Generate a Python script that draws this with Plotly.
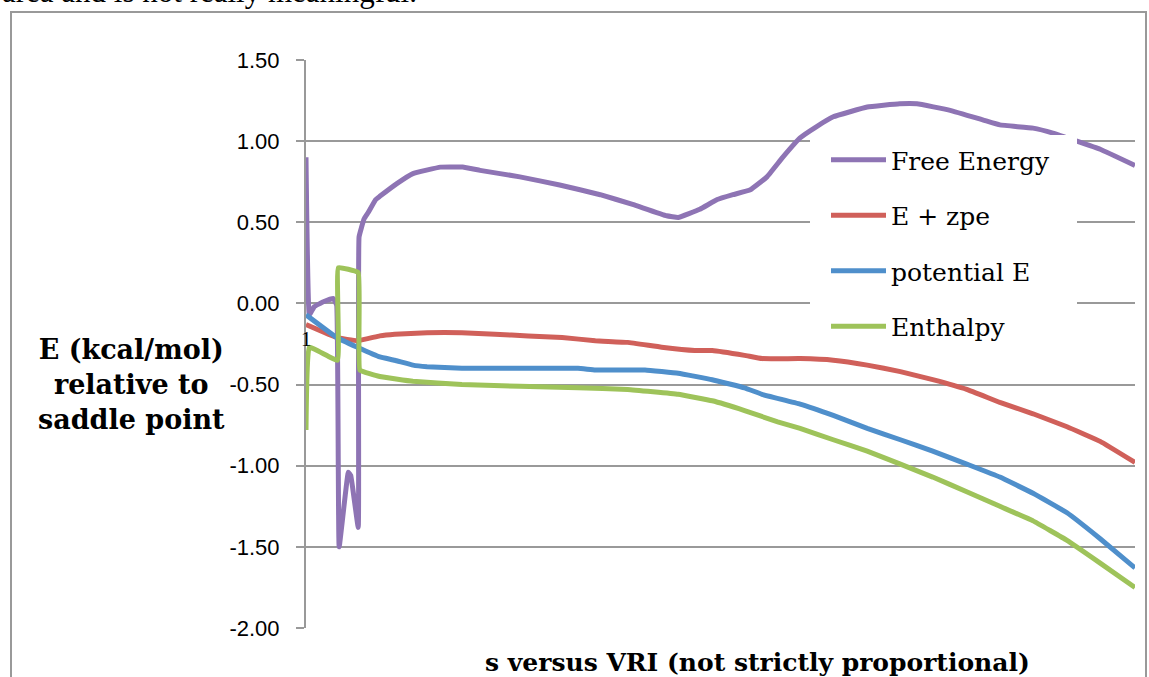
import plotly.graph_objects as go

# ---------------- data ----------------
# s = position along the reaction path (arbitrary units 0-100, "not strictly proportional")
s_free = [0.0, 0.4, 1.0, 2.1, 3.3, 3.7, 4.0, 5.1, 5.4, 6.3, 6.4, 7.0, 7.5, 8.4, 8.9,
          11.0, 12.9, 16.2, 18.9, 21.0, 25.8, 30.6, 35.5, 39.4, 43.5, 44.9, 47.5,
          49.6, 51.5, 53.6, 55.6, 57.5, 59.6, 61.6, 63.6, 67.7, 71.6, 73.7, 77.7,
          81.7, 83.7, 87.7, 90.1, 93.0, 95.8, 100.0]
free_energy = [0.90, -0.07, -0.02, 0.01, 0.03, -0.01, -1.50, -1.04, -1.06, -1.38, 0.41,
               0.52, 0.56, 0.64, 0.66, 0.74, 0.80, 0.84, 0.84, 0.82, 0.78, 0.73, 0.67,
               0.61, 0.54, 0.53, 0.58, 0.64, 0.67, 0.70, 0.78, 0.90, 1.02, 1.09, 1.15,
               1.21, 1.23, 1.23, 1.19, 1.13, 1.10, 1.08, 1.05, 1.00, 0.95, 0.85]

s_zpe = [0.0, 3.7, 6.2, 8.9, 10.7, 14.6, 18.8, 22.8, 26.8, 30.9, 34.9, 38.8, 42.9,
         46.9, 49.0, 52.9, 55.0, 59.6, 63.6, 67.7, 71.7, 75.6, 79.7, 83.7, 87.7,
         91.8, 95.8, 100.0]
e_zpe = [-0.13, -0.21, -0.23, -0.20, -0.19, -0.18, -0.18, -0.19, -0.20, -0.21, -0.23,
         -0.24, -0.27, -0.29, -0.29, -0.32, -0.34, -0.34, -0.35, -0.38, -0.42, -0.47,
         -0.53, -0.61, -0.68, -0.76, -0.85, -0.98]

s_pot = [0.0, 3.7, 6.2, 8.9, 10.7, 12.9, 14.6, 18.8, 32.8, 34.9, 40.9, 44.9, 49.0,
         52.9, 55.0, 59.6, 63.6, 67.7, 71.7, 75.6, 79.7, 83.7, 87.7, 91.8, 95.8, 100.0]
potential_e = [-0.07, -0.21, -0.27, -0.33, -0.35, -0.38, -0.39, -0.40, -0.40, -0.41,
               -0.41, -0.43, -0.47, -0.52, -0.56, -0.62, -0.69, -0.77, -0.84, -0.91,
               -0.99, -1.07, -1.17, -1.29, -1.45, -1.63]

s_enth = [0.0, 0.4, 3.8, 3.9, 6.3, 6.5, 8.9, 12.9, 18.8, 32.8, 38.8, 44.9, 49.0,
          52.9, 56.9, 59.6, 63.6, 67.7, 71.7, 75.6, 79.7, 83.7, 87.7, 91.8, 95.8, 100.0]
enthalpy = [-0.78, -0.27, -0.35, 0.22, 0.19, -0.41, -0.45, -0.48, -0.50, -0.52, -0.53,
            -0.56, -0.60, -0.66, -0.73, -0.77, -0.84, -0.91, -0.99, -1.07, -1.16, -1.25,
            -1.34, -1.46, -1.60, -1.75]

series_names = ["Free Energy", "E + zpe", "potential E", "Enthalpy"]
series_colors = ["#8E74B4", "#D0605A", "#4F8FCB", "#9EC35A"]

y_ticks = [1.5, 1.0, 0.5, 0.0, -0.5, -1.0, -1.5, -2.0]
y_tick_labels = ["1.50", "1.00", "0.50", "0.00", "-0.50", "-1.00", "-1.50", "-2.00"]

y_title = "E (kcal/mol)<br>relative to<br>saddle point"
x_title = "s versus VRI (not strictly proportional)"
category_label = "1"
caption_fragment = "area and is not really meaningful."

# ---------------- figure ----------------
W, H = 1149, 677
ML, MR, MT, MB = 306, 14, 60, 49
PW, PH = W - ML - MR, H - MT - MB


def px_x(px):
    return (px - ML) / PW


def px_y(py):
    return (H - MB - py) / PH


GRID = "#999999"
SERIF = "DejaVu Serif"

fig = go.Figure()
all_x = [s_free, s_zpe, s_pot, s_enth]
all_y = [free_energy, e_zpe, potential_e, enthalpy]
for name, xs, ys, col in zip(series_names, all_x, all_y, series_colors):
    fig.add_trace(go.Scatter(
        x=xs, y=ys, mode="lines", name=name, legendgroup=name,
        line=dict(color=col, width=5, shape="spline", smoothing=0.25),
        hoverinfo="skip"))

fig.update_layout(
    width=W, height=H,
    margin=dict(l=ML, r=MR, t=MT, b=MB, pad=0),
    paper_bgcolor="white", plot_bgcolor="white",
    showlegend=True,
    legend=dict(
        x=px_x(826), y=px_y(137), xanchor="left", yanchor="top",
        bgcolor="rgba(255,255,255,0)", borderwidth=0,
        font=dict(family=SERIF, size=25, color="black"),
        tracegroupgap=20, itemwidth=55,
    ),
    xaxis=dict(range=[0, 100], showgrid=False, zeroline=False, showline=False,
               showticklabels=False, ticks="", fixedrange=True),
    yaxis=dict(range=[-2.0, 1.5], tickvals=y_ticks, ticktext=y_tick_labels,
               showgrid=True, gridcolor=GRID, gridwidth=2,
               zeroline=False, showline=True, linecolor=GRID, linewidth=2,
               ticks="outside", ticklen=8, tickwidth=2, tickcolor=GRID,
               ticklabelstandoff=12,
               tickfont=dict(family="Liberation Sans", size=22, color="black"),
               fixedrange=True),
)

# white legend panel (covers lines and gridlines like the reference)
fig.add_shape(type="rect", xref="paper", yref="paper",
              x0=px_x(810), x1=px_x(1077), y0=px_y(345), y1=px_y(135),
              line=dict(width=0), fillcolor="white", layer="above")

# y-axis title (left, three lines)
fig.add_annotation(xref="paper", yref="paper", x=px_x(131), y=px_y(384),
                   xanchor="center", yanchor="middle", showarrow=False,
                   text="<b>" + y_title.replace("<br>", "</b><br><b>") + "</b>",
                   align="center",
                   font=dict(family=SERIF, size=27, color="black"))
# x-axis title
fig.add_annotation(xref="paper", yref="paper", x=px_x(757), y=px_y(662),
                   xanchor="center", yanchor="middle", showarrow=False,
                   text="<b>" + x_title + "</b>",
                   font=dict(family=SERIF, size=25, color="black"))
# stray category label "1"
fig.add_annotation(xref="x", yref="y", x=s_free[0], y=-0.22,
                   xanchor="center", yanchor="middle", showarrow=False,
                   text=category_label,
                   font=dict(family="Liberation Serif", size=21, color="black"))
# fragment of the document text above the chart
fig.add_annotation(xref="paper", yref="paper", x=px_x(0), y=px_y(-8),
                   xanchor="left", yanchor="middle", showarrow=False,
                   text=caption_fragment,
                   font=dict(family="Liberation Serif", size=31, color="black"))
# chart frame
fig.add_shape(type="rect", xref="paper", yref="paper",
              x0=px_x(11), x1=px_x(1146), y0=px_y(700), y1=px_y(12),
              line=dict(color="#999999", width=2), fillcolor="rgba(0,0,0,0)",
              layer="below")

fig.write_html("out.html", config={"displayModeBar": False},
               post_script="document.body.style.margin='0px';")
